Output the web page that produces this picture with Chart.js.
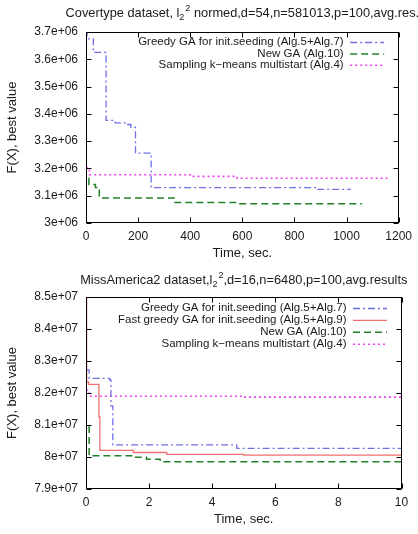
<!DOCTYPE html>
<html>
<head>
<meta charset="utf-8">
<script src="https://cdn.jsdelivr.net/npm/chart.js@4"></script>
<style>
  html, body { margin: 0; padding: 0; background: #fff; }
  #wrap { position: relative; width: 418px; height: 534px; }
  .box { position: absolute; left: 0; width: 418px; }
</style>
</head>
<body>
<div id="wrap">
  <div class="box" style="top:0;height:266px"><canvas id="chart-cov" width="418" height="266"></canvas></div>
  <div class="box" style="top:265px;height:269px"><canvas id="chart-ma" width="418" height="269"></canvas></div>
</div>
<script>
// ---- Covertype (top) ----
const covGreedyT = [0, 4, 28, 77, 112, 150, 172, 190, 250, 890, 1017];
const covGreedyF = [3.705e6, 3.675e6, 3.625e6, 3.376e6, 3.367e6, 3.361e6, 3.351e6, 3.256e6, 3.130e6, 3.123e6, 3.123e6];
const covNewT = [10, 11, 36, 51, 337, 590, 1059];
const covNewF = [3.164e6, 3.141e6, 3.130e6, 3.092e6, 3.075e6, 3.071e6, 3.071e6];
const covSampT = [0, 13, 400, 580, 1163];
const covSampF = [3.202e6, 3.177e6, 3.171e6, 3.164e6, 3.164e6];
const covXTicks = [0, 200, 400, 600, 800, 1000, 1200];
const covYTicks = [3.0e6, 3.1e6, 3.2e6, 3.3e6, 3.4e6, 3.5e6, 3.6e6, 3.7e6];
const covYLabels = ['3e+06', '3.1e+06', '3.2e+06', '3.3e+06', '3.4e+06', '3.5e+06', '3.6e+06', '3.7e+06'];

// ---- MissAmerica2 (bottom) ----
const maGreedyT = [0, 0.1, 0.75, 0.79, 0.85, 4.78, 10];
const maGreedyF = [8.272e7, 8.246e7, 8.241e7, 8.160e7, 8.038e7, 8.027e7, 8.027e7];
const maFastT = [0, 0.02, 0.08, 0.41, 0.44, 1.5, 2.56, 5, 10];
const maFastF = [8.6e7, 8.235e7, 8.227e7, 8.125e7, 8.021e7, 8.014e7, 8.008e7, 8.006e7, 8.006e7];
const maNewT = [0.07, 0.1, 1.5, 1.92, 2.35, 10];
const maNewF = [8.094e7, 8.004e7, 7.999e7, 7.993e7, 7.985e7, 7.983e7];
const maSampT = [0, 0.05, 0.15, 5, 10];
const maSampF = [8.209e7, 8.199e7, 8.190e7, 8.187e7, 8.187e7];
const maXTicks = [0, 2, 4, 6, 8, 10];
const maYTicks = [7.9e7, 8.0e7, 8.1e7, 8.2e7, 8.3e7, 8.4e7, 8.5e7];
const maYLabels = ['7.9e+07', '8e+07', '8.1e+07', '8.2e+07', '8.3e+07', '8.4e+07', '8.5e+07'];

const LBL_GREEDY = 'Greedy GA for init.seeding (Alg.5+Alg.7)';
const LBL_FAST = 'Fast greedy GA for init.seeding (Alg.5+Alg.9)';
const LBL_NEW = 'New GA (Alg.10)';
const LBL_SAMP = 'Sampling k\u2212means multistart (Alg.4)';

const FONT = '"Liberation Sans", Arial, sans-serif';
const INK = '#1a1a1a';

const STYLE = {
  greedy: { borderColor: '#6f6fe8', borderWidth: 1.3, borderDash: [7, 3, 2, 3] },
  fast:   { borderColor: '#f07070', borderWidth: 1.3, borderDash: [] },
  newga:  { borderColor: '#23802a', borderWidth: 1.5, borderDash: [7, 4] },
  samp:   { borderColor: '#f040f0', borderWidth: 1.6, borderDash: [2, 3] }
};

function pts(t, f) { return t.map((v, i) => ({ x: v, y: f[i] })); }

// value f[i] holds from t[i] until t[i+1]: horizontal first, then vertical
function series(label, t, f, style) {
  return {
    label, data: pts(t, f), stepped: 'before', pointRadius: 0, fill: false,
    tension: 0, ...style
  };
}

// title with l_2^2 drawn as real text pieces
function drawTitle(ctx, cx, cy, before, after) {
  const big = '12.8px ' + FONT, small = '9px ' + FONT;
  ctx.font = big; const w1 = ctx.measureText(before).width;
  const w3 = ctx.measureText(after).width;
  ctx.font = small; const w2 = ctx.measureText('2').width;
  const total = w1 + w2 * 2 + 1 + w3;
  let x = cx - total / 2;
  ctx.textAlign = 'left'; ctx.textBaseline = 'middle'; ctx.fillStyle = INK;
  ctx.font = big; ctx.fillText(before, x, cy); x += w1;
  ctx.font = small; ctx.fillText('2', x, cy + 4); x += w2 + 1;
  ctx.fillText('2', x, cy - 5); x += w2;
  ctx.font = big; ctx.fillText(after, x, cy);
}

const frame = {
  id: 'frame',
  afterDatasetsDraw(chart, args, opts) {
    const { ctx, chartArea: a, scales: { x, y } } = chart;
    const L = Math.round(a.left) + 0.5, R = Math.round(a.right) - 0.5;
    const T = Math.round(a.top) + 0.5, B = Math.round(a.bottom) - 0.5;
    ctx.save();
    ctx.strokeStyle = '#000';
    ctx.lineWidth = 1;
    ctx.setLineDash([]);
    ctx.strokeRect(L, T, R - L, B - T);
    ctx.beginPath();
    x.ticks.forEach(t => {
      const px = Math.round(x.getPixelForValue(t.value)) + 0.5;
      ctx.moveTo(px, B); ctx.lineTo(px, B - 5);
      ctx.moveTo(px, T); ctx.lineTo(px, T + 5);
    });
    y.ticks.forEach(t => {
      const py = Math.round(y.getPixelForValue(t.value)) + 0.5;
      ctx.moveTo(L, py); ctx.lineTo(L + 5, py);
      ctx.moveTo(R, py); ctx.lineTo(R - 5, py);
    });
    ctx.stroke();

    // legend, gnuplot style: right-aligned text, sample on the right
    ctx.font = '11.5px ' + FONT;
    ctx.textAlign = 'right';
    ctx.textBaseline = 'middle';
    chart.data.datasets.forEach((ds, i) => {
      const ly = a.top + opts.legendTop + i * opts.legendStep;
      ctx.fillStyle = INK;
      ctx.fillText(ds.label, a.right - 55, ly);
      ctx.strokeStyle = ds.borderColor;
      ctx.lineWidth = ds.borderWidth;
      ctx.setLineDash(ds.borderDash || []);
      ctx.beginPath();
      ctx.moveTo(a.right - 48.5, ly + 0.5);
      ctx.lineTo(a.right - 14.5, ly + 0.5);
      ctx.stroke();
    });
    ctx.setLineDash([]);

    // axis titles
    ctx.fillStyle = INK;
    ctx.font = '13px ' + FONT;
    ctx.textAlign = 'center';
    ctx.fillText('Time, sec.', (a.left + a.right) / 2, opts.xTitleY);
    ctx.save();
    ctx.translate(12, (a.top + a.bottom) / 2);
    ctx.rotate(-Math.PI / 2);
    ctx.fillText('F(X), best value', 0, 0);
    ctx.restore();

    drawTitle(ctx, (a.left + a.right) / 2, opts.titleY, opts.titleBefore, opts.titleAfter);
    ctx.restore();
  }
};

function makeChart(id, datasets, xMax, xTicks, yTicks, yLabels, xHeight, extra) {
  const el = document.getElementById(id);
  return new Chart(el, {
    type: 'line',
    data: { datasets },
    options: {
      responsive: false,
      animation: false,
      layout: { padding: { top: 32, right: 16.5, left: 0, bottom: 0 } },
      plugins: { legend: { display: false }, tooltip: { enabled: false }, title: { display: false }, frame: extra },
      scales: {
        x: {
          type: 'linear', min: 0, max: xMax,
          grid: { display: false, drawTicks: false }, border: { display: false },
          afterBuildTicks: s => { s.ticks = xTicks.map(v => ({ value: v })); },
          afterFit: s => { s.height = xHeight; },
          ticks: { color: INK, font: { family: FONT, size: 12 }, padding: 6, maxRotation: 0, autoSkip: false,
                   callback: (v, i) => String(xTicks[i]) }
        },
        y: {
          type: 'linear', min: yTicks[0], max: yTicks[yTicks.length - 1],
          grid: { display: false, drawTicks: false }, border: { display: false },
          afterBuildTicks: s => { s.ticks = yTicks.map(v => ({ value: v })); },
          afterFit: s => { s.width = 86; },
          ticks: { color: INK, font: { family: FONT, size: 12 }, padding: 8, callback: (v, i) => yLabels[i] }
        }
      }
    },
    plugins: [frame]
  });
}

makeChart('chart-cov', [
  series(LBL_GREEDY, covGreedyT, covGreedyF, STYLE.greedy),
  series(LBL_NEW, covNewT, covNewF, STYLE.newga),
  series(LBL_SAMP, covSampT, covSampF, STYLE.samp)
], 1200, covXTicks, covYTicks, covYLabels, 43, {
  legendTop: 10, legendStep: 11.4, xTitleY: 253, titleY: 13.5,
  titleBefore: 'Covertype dataset, l', titleAfter: ' normed,d=54,n=581013,p=100,avg.res.'
});

makeChart('chart-ma', [
  series(LBL_GREEDY, maGreedyT, maGreedyF, STYLE.greedy),
  series(LBL_FAST, maFastT, maFastF, STYLE.fast),
  series(LBL_NEW, maNewT, maNewF, STYLE.newga),
  series(LBL_SAMP, maSampT, maSampF, STYLE.samp)
], 10, maXTicks, maYTicks, maYLabels, 45, {
  legendTop: 11, legendStep: 11.9, xTitleY: 254, titleY: 15.7,
  titleBefore: 'MissAmerica2 dataset,l', titleAfter: ',d=16,n=6480,p=100,avg.results'
});
</script>
</body>
</html>
